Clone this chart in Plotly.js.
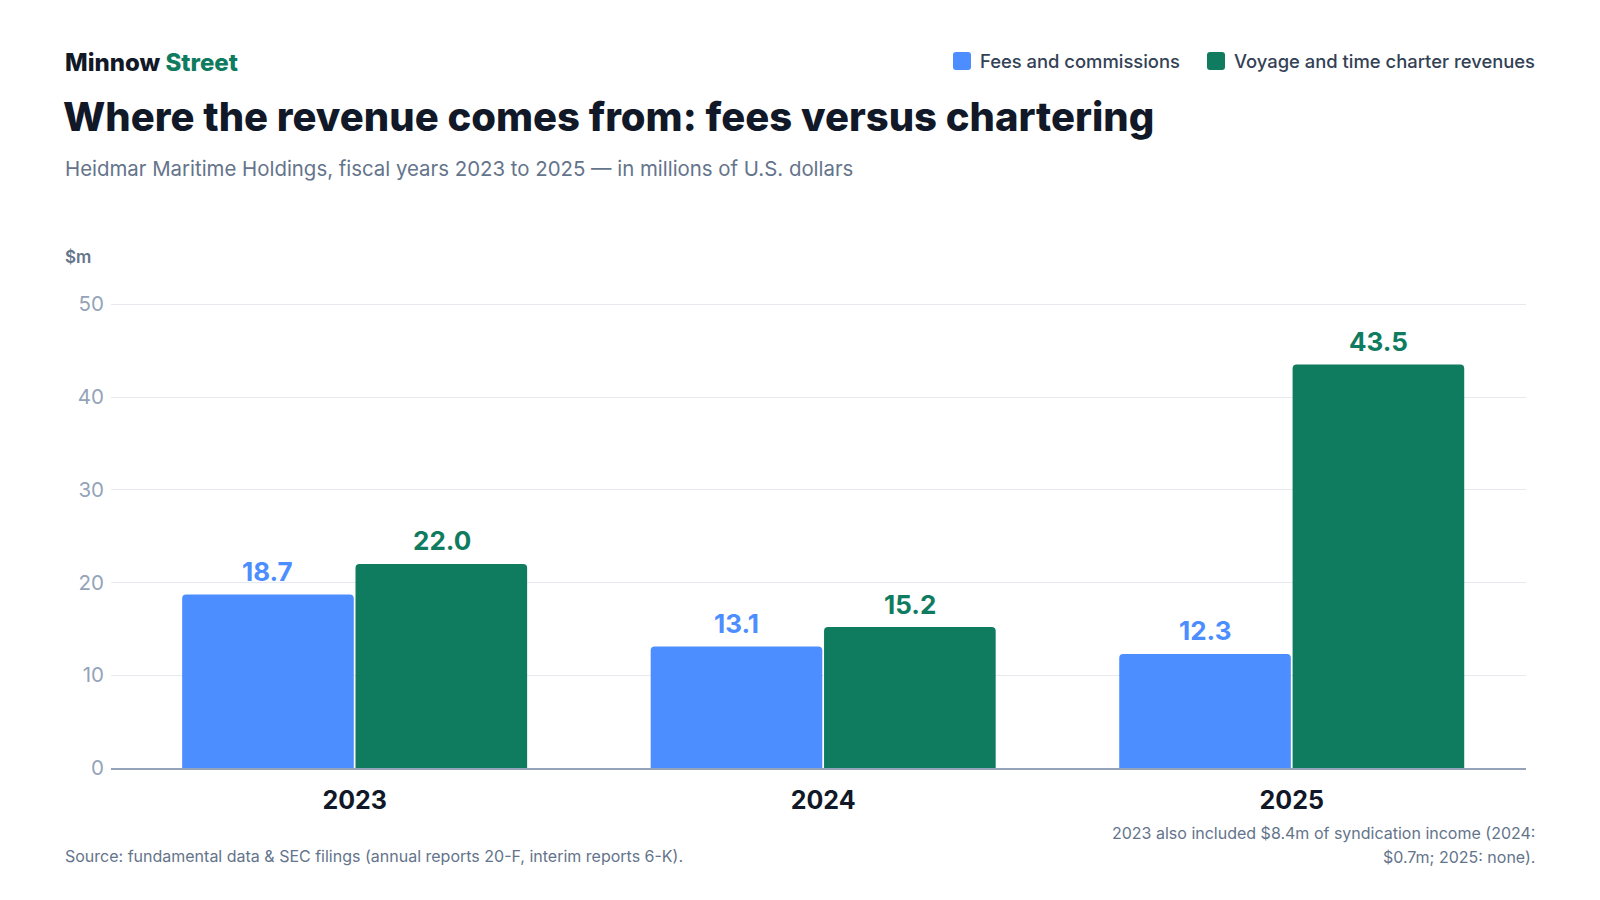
<!DOCTYPE html>
<html>
<head>
<meta charset="utf-8">
<script src="https://cdn.plot.ly/plotly-3.0.1.min.js"></script>
<style>
  html, body { margin: 0; padding: 0; background: #ffffff; }
  #chart { width: 1600px; height: 900px; }
</style>
</head>
<body>
<div id="chart"></div>
<script>
// data
const years = ['2023', '2024', '2025'];
const fees = [18.7, 13.1, 12.3];
const charter = [22.0, 15.2, 43.5];
const seriesNames = ['Fees and commissions', 'Voyage and time charter revenues'];
const yTicks = [0, 10, 20, 30, 40, 50];

// colours
const BLUE = '#4c8dff';
const GREEN = '#0f7b5f';
const INK = '#111827';
const SLATE = '#64748b';
const MUTED = '#94a3b8';
const FONT = 'Inter, "Noto Sans", sans-serif';

// page geometry (px); y range runs a little past 50 so the top gridline shows
const W = 1600, H = 900;
const M = { l: 111, r: 74, t: 295, b: 132 };
const plotW = W - M.l - M.r;
const plotH = H - M.t - M.b;
// pixel -> paper helpers for the text furniture
const px = x => (x - M.l) / plotW;
const py = y => (H - M.b - y) / plotH;

const traces = [
  { type: 'bar', name: seriesNames[0], x: years, y: fees, marker: { color: BLUE }, hoverinfo: 'skip' },
  { type: 'bar', name: seriesNames[1], x: years, y: charter, marker: { color: GREEN }, hoverinfo: 'skip' }
];

const annotations = [];
const shapes = [];

function note(text, x, y, font, opts) {
  annotations.push(Object.assign({
    text: text, xref: 'paper', yref: 'paper', x: px(x), y: py(y),
    xanchor: 'left', yanchor: 'middle', showarrow: false,
    font: Object.assign({ family: FONT }, font)
  }, opts || {}));
}

// header
note('Minnow <span style="color:' + GREEN + '">Street</span>', 63, 62, { size: 24, color: INK, weight: 800 });
note('Where the revenue comes from: fees versus chartering', 61, 117, { size: 40, color: INK, weight: 800 });
note('Heidmar Maritime Holdings, fiscal years 2023 to 2025 — in millions of U.S. dollars', 63, 168, { size: 20.4, color: SLATE });
note('$m', 63, 257, { size: 17, color: SLATE, weight: 600 });

// legend (custom so swatches match size)
const legendItems = [
  { name: seriesNames[0], color: BLUE, x0: 953 },
  { name: seriesNames[1], color: GREEN, x0: 1207 }
];
legendItems.forEach(it => {
  const s = 18, r = 3;
  const xa = px(it.x0), xb = px(it.x0 + s);
  const ya = py(52), yb = py(52 + s);
  const rx = r / plotW, ry = r / plotH;
  shapes.push({
    type: 'path', xref: 'paper', yref: 'paper', line: { width: 0 }, fillcolor: it.color,
    path: `M${xa + rx},${ya} L${xb - rx},${ya} Q${xb},${ya} ${xb},${ya - ry} L${xb},${yb + ry} Q${xb},${yb} ${xb - rx},${yb} L${xa + rx},${yb} Q${xa},${yb} ${xa},${yb + ry} L${xa},${ya - ry} Q${xa},${ya} ${xa + rx},${ya} Z`
  });
  note(it.name, it.x0 + s + 7, 61, { size: 18.4, color: '#334155', weight: 500 });
});

// value labels above bars (x by category index, y by value)
const off = 87;
[fees, charter].forEach((vals, si) => {
  vals.forEach((v, i) => {
    annotations.push({
      text: v.toFixed(1), x: i, y: v, xref: 'x', yref: 'y',
      xshift: si === 0 ? -off : off, yshift: 23, yanchor: 'middle', xanchor: 'center',
      showarrow: false, font: { family: FONT, size: 26, weight: 700, color: si === 0 ? BLUE : GREEN }
    });
  });
});

// footnotes
note('Source: fundamental data & SEC filings (annual reports 20-F, interim reports 6-K).', 63, 856, { size: 16, color: SLATE });
note('2023 also included $8.4m of syndication income (2024:', 1537, 833, { size: 16, color: SLATE }, { xanchor: 'right' });
note('$0.7m; 2025: none).', 1537, 857, { size: 16, color: SLATE }, { xanchor: 'right' });

const layout = {
  width: W, height: H,
  margin: M,
  paper_bgcolor: '#ffffff', plot_bgcolor: '#ffffff',
  showlegend: false,
  barmode: 'group', bargap: 0.26, bargroupgap: 0.01, barcornerradius: 4,
  font: { family: FONT },
  xaxis: {
    type: 'category', range: [-0.52, 2.5], fixedrange: true,
    showline: true, linecolor: MUTED, linewidth: 1.5, ticks: '', showgrid: false,
    tickfont: { family: FONT, size: 25, color: INK, weight: 700 }, ticklabelstandoff: 9
  },
  yaxis: {
    range: [0, 51], tickvals: yTicks, fixedrange: true,
    showgrid: true, gridcolor: '#e6e9ee', gridwidth: 1, zeroline: false, showline: false,
    ticks: '', tickfont: { family: FONT, size: 20.5, color: MUTED }, ticklabelstandoff: 6
  },
  annotations: annotations,
  shapes: shapes
};

Plotly.newPlot('chart', traces, layout, { staticPlot: true, displayModeBar: false });
</script>
</body>
</html>
